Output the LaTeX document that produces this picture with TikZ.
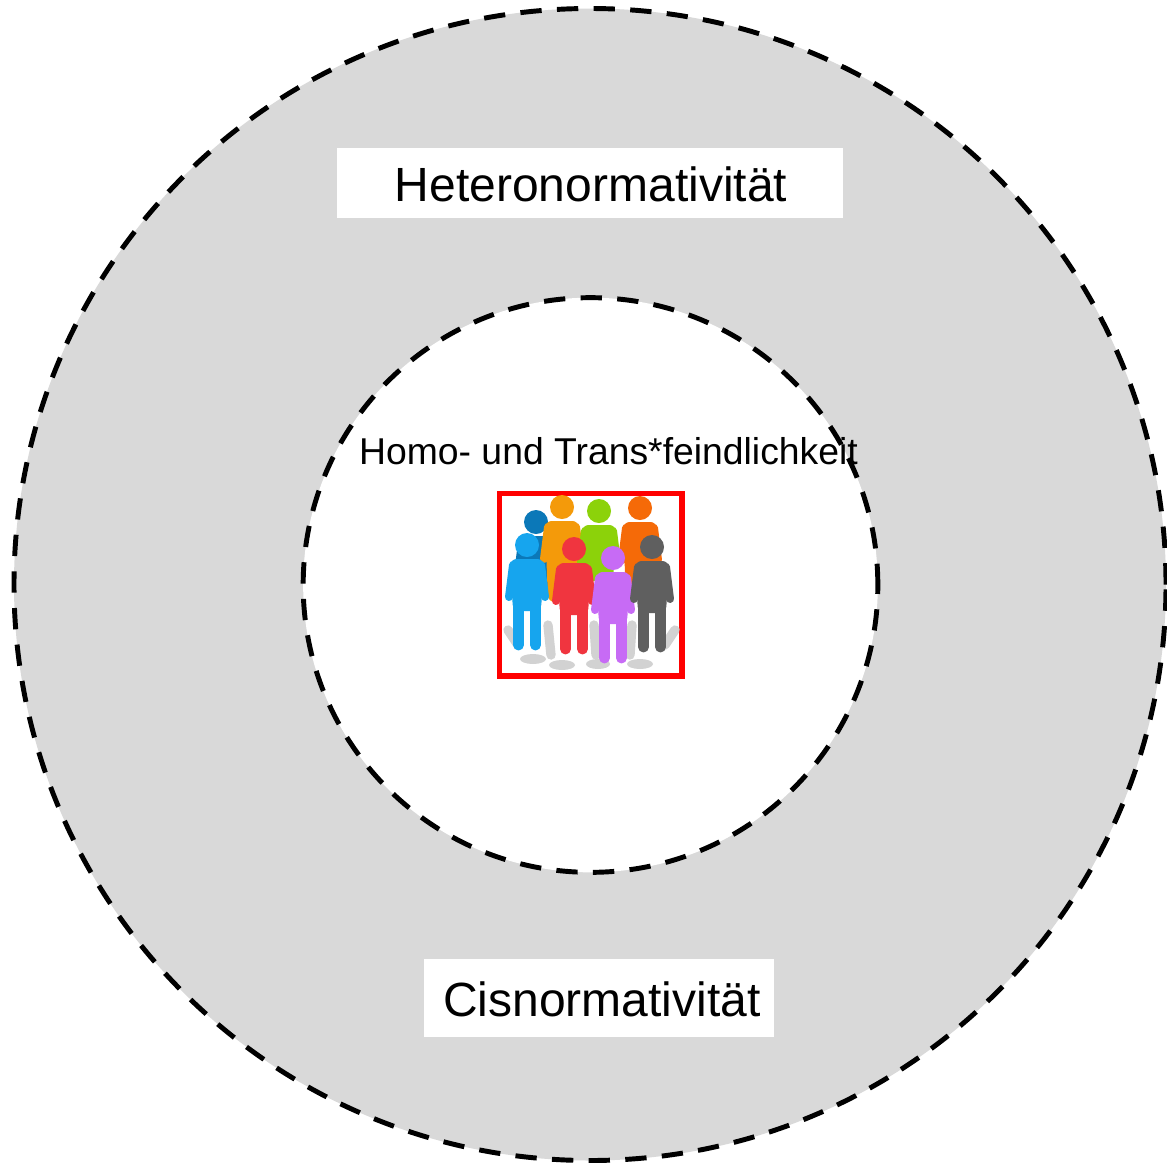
\documentclass[tikz,border=0pt]{standalone}
\usepackage{fontspec}
\setmainfont{Liberation Sans}
\definecolor{ringgrey}{HTML}{D9D9D9}
\definecolor{shadowgrey}{HTML}{D2D2D2}
\definecolor{pblue}{HTML}{16A5EE}
\definecolor{pdark}{HTML}{0B78B8}
\definecolor{porange}{HTML}{F49A0A}
\definecolor{pgreen}{HTML}{8CD20A}
\definecolor{pdeep}{HTML}{F56A08}
\definecolor{pred}{HTML}{F0353F}
\definecolor{ppurple}{HTML}{C76BF5}
\definecolor{pgrey}{HTML}{5F5F5F}
\newcommand{\upperbody}[4]{% x, y of head, bottom offset, colour
  \begin{scope}[shift={(#1,#2)}]
    \fill[#4] (0,0) circle[radius=12];
    \fill[#4,rounded corners=5] (-17,14) -- (17,14) -- (14,#3) -- (-14,#3) -- cycle;
    \draw[#4,line width=6pt,line cap=round,line join=round] (-14,20) -- (-18,52);
    \draw[#4,line width=6pt,line cap=round,line join=round] (14,20) -- (18,52);
  \end{scope}}
\newcommand{\figperson}[3]{% x, y of head, colour
  \upperbody{#1}{#2}{66}{#3}
  \begin{scope}[shift={(#1,#2)}]
    \draw[#3,line width=8.2pt,line cap=round] (-8.5,58) -- (-8.5,100);
    \draw[#3,line width=8.2pt,line cap=round] (8.5,58) -- (8.5,100);
  \end{scope}}
\begin{document}
\begin{tikzpicture}[x=0.75pt,y=-0.75pt,
  ringline/.style={circle,draw=black,line width=3.7pt,dash pattern=on 16pt off 11.5pt,inner sep=0pt},
  labelbox/.style={fill=white,inner sep=0pt},
  bigtext/.style={anchor=base,inner sep=0pt,font=\fontsize{36pt}{40pt}\selectfont},
  midtext/.style={anchor=base,inner sep=0pt,font=\fontsize{28pt}{32pt}\selectfont},
  shadow/.style={shadowgrey,line width=7pt,line cap=round}]
\useasboundingbox (0,0) rectangle (1167,1164);
\fill[white] (0,0) rectangle (1167,1164);
\node[ringline,fill=ringgrey,minimum size=864pt] (outer) at (590,584.5) {};
\node[circle,fill=white,minimum size=431pt,inner sep=0pt] (innerfill) at (590.5,585) {};
\node[labelbox,minimum width=379.5pt,minimum height=52.5pt] (hbox) at (590,183) {};
\node[bigtext] (htext) at (591,201) {Heteronormativität};
\node[labelbox,minimum width=262.5pt,minimum height=58.5pt] (cbox) at (599,998) {};
\node[bigtext] (ctext) at (602,1016) {Cisnormativität};
\node[midtext] (mtext) at (608.5,464) {Homo- und Trans*feindlichkeit};
\node[ringline,minimum size=431pt] (inner) at (590.5,585) {};
\node[draw=red,fill=white,line width=4pt,minimum size=137pt,inner sep=0pt] (photo) at (590.5,584.5) {};
% shadows
\fill[shadowgrey] (533,659) ellipse[x radius=13,y radius=5];
\fill[shadowgrey] (562,665) ellipse[x radius=13,y radius=5];
\fill[shadowgrey] (598,664) ellipse[x radius=12,y radius=5];
\fill[shadowgrey] (640,664) ellipse[x radius=13,y radius=5];
\draw[shadow] (508,630) -- (518,645);
\draw[shadow] (548,625) -- (551,655);
\draw[shadow] (594,625) -- (596,655);
\draw[shadow] (632,625) -- (630,655);
\draw[shadow] (675,630) -- (665,645);
% people at the back
\upperbody{536}{522}{68}{pdark}
\upperbody{562}{507}{95}{porange}
\upperbody{599}{511}{70}{pgreen}
\upperbody{640}{508}{90}{pdeep}
% people in front
\figperson{527}{545}{pblue}
\figperson{574}{549}{pred}
\figperson{613}{558}{ppurple}
\figperson{652}{547}{pgrey}
\end{tikzpicture}
\end{document}
